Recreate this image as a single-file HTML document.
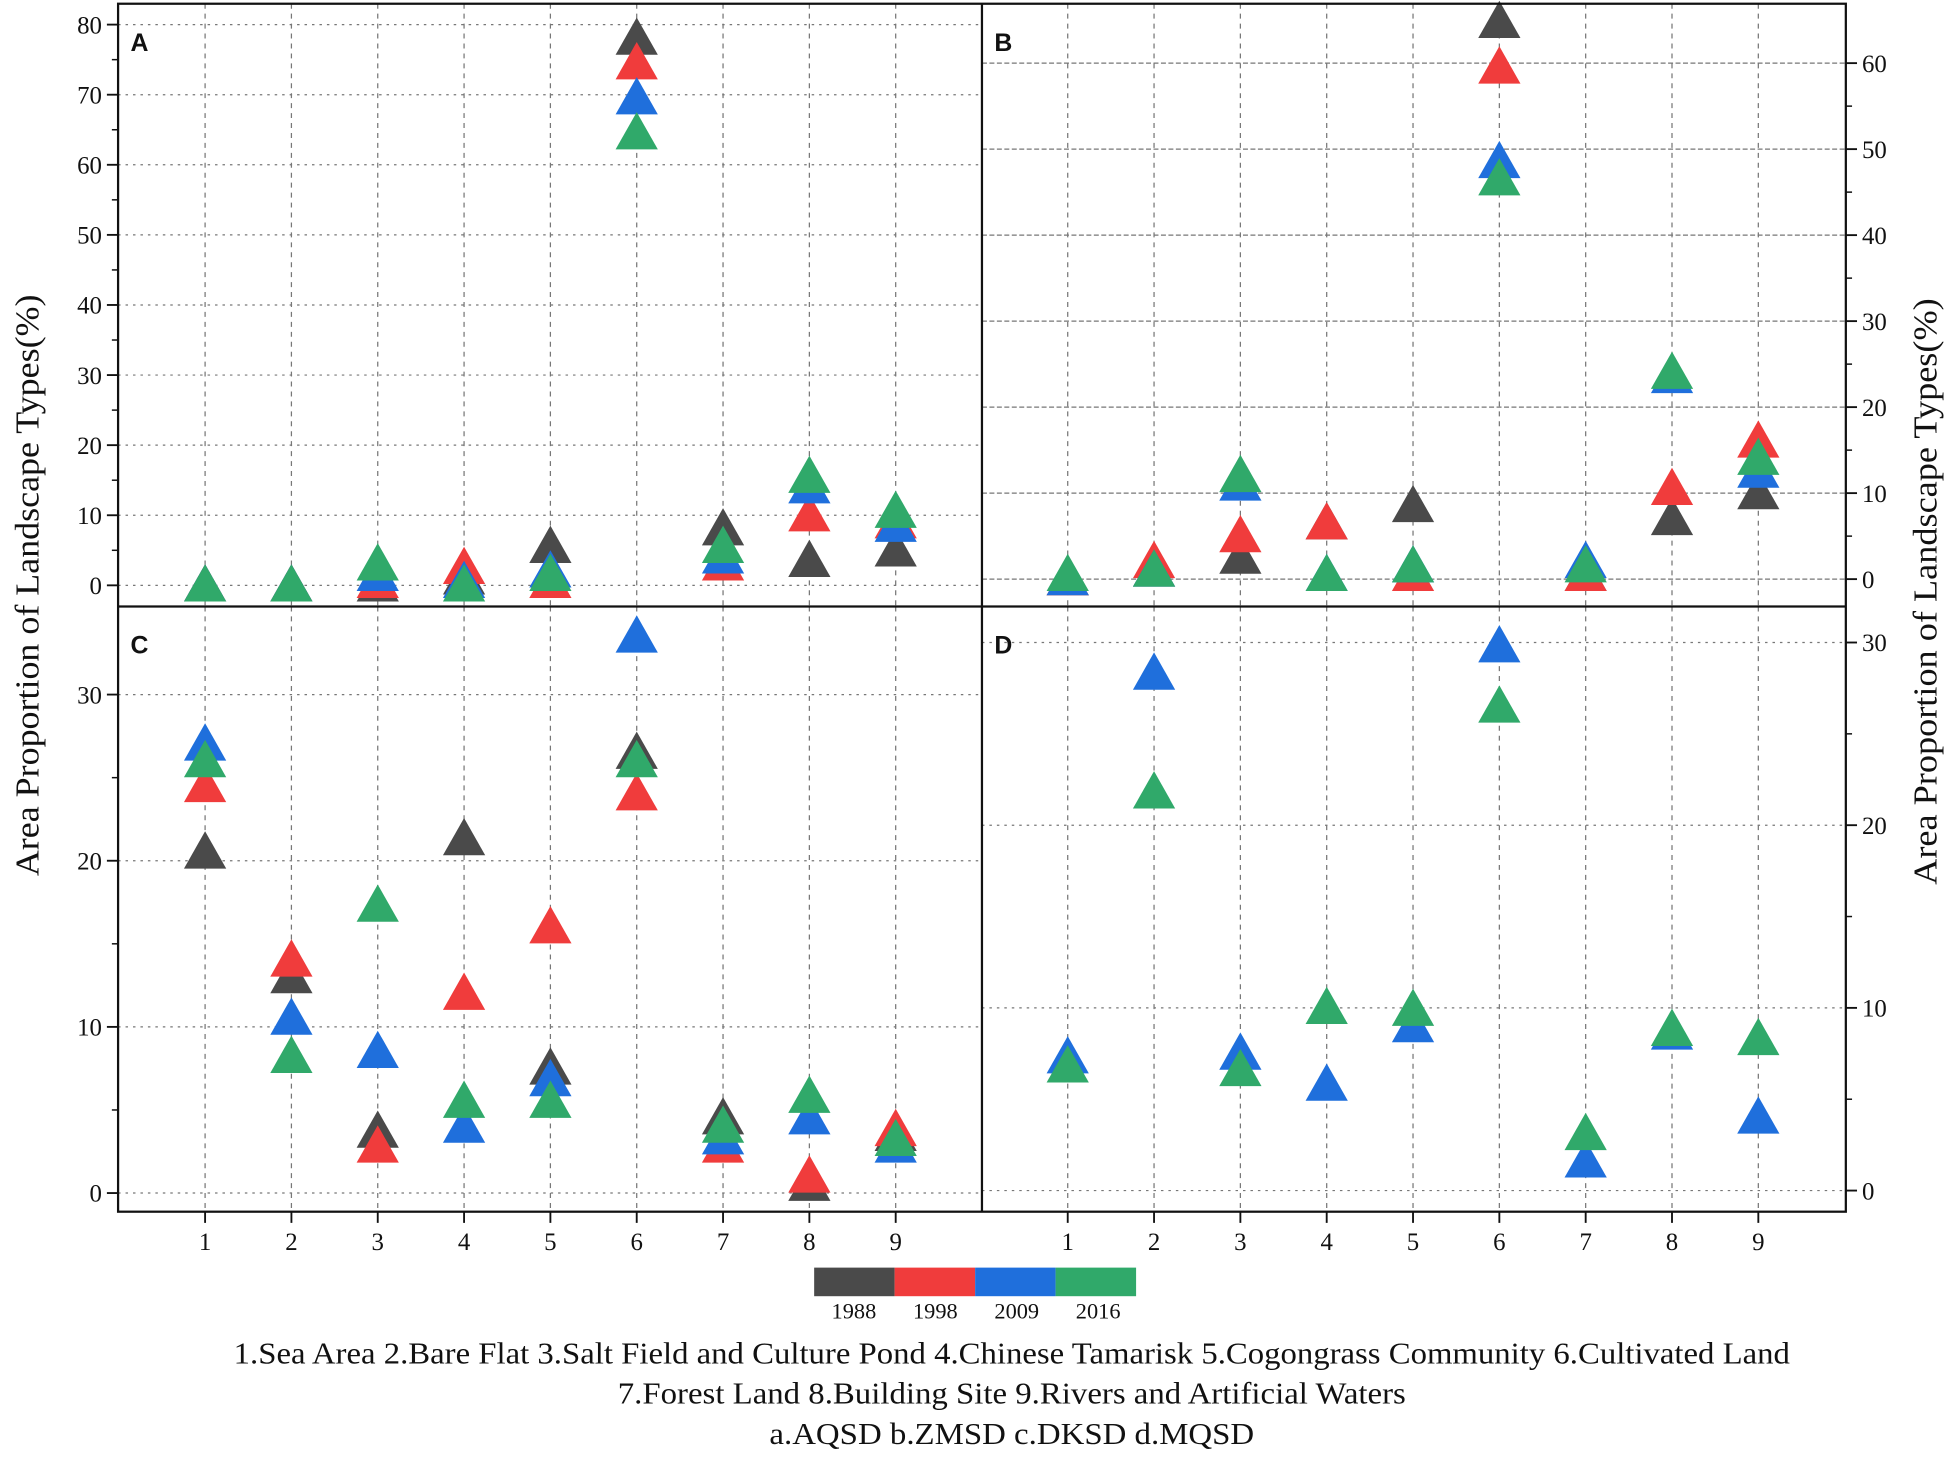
<!DOCTYPE html>
<html><head><meta charset="utf-8"><style>
html,body{margin:0;padding:0;background:#fff}
svg{display:block}
text{font-family:"Liberation Serif",serif;fill:#111}
</style></head><body>
<svg id="chart" width="1949" height="1459" viewBox="0 0 1568 1174" preserveAspectRatio="none" xmlns="http://www.w3.org/2000/svg"></svg>
<script>
const categories=[1,2,3,4,5,6,7,8,9];
const years=["1988","1998","2009","2016"];
const colors=["#4a4a4a","#f03c3c","#1f6fdc","#30a96a"];
// Panel A values per year
const a1988=[0,0,0,1,5.5,78,8,3.5,5];
const a1998=[0,0,0.5,2.5,0.5,74.5,3,10,9];
const a2009=[0,0,1.5,0.5,2,69.5,4,14,8.5];
const a2016=[0,0,3,0,1.5,64.5,5.5,15.5,10.5];
// Panel B
const b1988=[0,1,2.5,6.5,8.5,64.8,0.5,7,10];
const b1998=[0,2,5,6.5,0.5,59.5,0.5,10.5,16];
const b2009=[0,1,11,0.5,1.5,48.5,2,23.5,12.5];
const b2016=[0.5,1,12,0.5,1.5,46.5,1.5,24,14];
// Panel C
const c1988=[20.5,13,3.7,21.3,7.5,26.5,4.5,0.5,3.5];
const c1998=[24.5,14,2.8,12,16,24,2.8,1,3.8];
const c2009=[27,10.5,8.5,4,6.8,33.5,3.3,4.5,2.8];
const c2016=[26,8.2,17.3,5.5,5.5,26,4,5.8,3.2];
// Panel D
const d1988=[null,null,null,null,null,null,null,null,null];
const d1998=[null,null,null,null,null,null,null,null,null];
const d2009=[7.3,28.3,7.5,5.8,9.0,29.8,1.6,8.6,4.0];
const d2016=[6.8,21.8,6.6,10.0,9.9,26.5,3.1,8.8,8.3];
const aTicks=[0,10,20,30,40,50,60,70,80];
const bTicks=[0,10,20,30,40,50,60];
const cTicks=[0,10,20,30];
const dTicks=[0,10,20,30];

const svg=document.getElementById('chart');
const NS="http://www.w3.org/2000/svg";
function el(tag,attrs,parent){const e=document.createElementNS(NS,tag);for(const k in attrs)e.setAttribute(k,attrs[k]);(parent||svg).appendChild(e);return e;}

const panels=[
 {id:"a",label:"A",x0:95,x1:790,y0:3,y1:488,zero:471,per:5.64,ticks:aTicks,minor:5,side:"left",grid:"2,4",series:[a1988,a1998,a2009,a2016],catX:165},
 {id:"b",label:"B",x0:790,x1:1485,y0:3,y1:488,zero:466,per:6.92,ticks:bTicks,minor:5,side:"right",grid:"4,2",series:[b1988,b1998,b2009,b2016],catX:859},
 {id:"c",label:"C",x0:95,x1:790,y0:488,y1:975,zero:960,per:13.37,ticks:cTicks,minor:5,side:"left",grid:"2,4",series:[c1988,c1998,c2009,c2016],catX:165},
 {id:"d",label:"D",x0:790,x1:1485,y0:488,y1:975,zero:958,per:14.7,ticks:dTicks,minor:5,side:"right",grid:"2,4",series:[d1988,d1998,d2009,d2016],catX:859}
];
const step=69.45;
panels.forEach(p=>{
 const g=el('g',{});
 
 
 const yS=v=>p.zero-v*p.per;
 const xS=i=>p.catX+i*step;
 categories.forEach((c,i)=>{
  const l=el('line',{x1:xS(i),x2:xS(i),y1:p.y0,y2:p.y1,stroke:"#777","stroke-width":1,"stroke-dasharray":"4,4"},g);
  
  
 });
 const ax=p.side==="left"?p.x0:p.x1, dir=p.side==="left"?-1:1;
 p.ticks.forEach(t=>{
  const y=yS(t);
  const l=el('line',{x1:p.x0,x2:p.x1,y1:y,y2:y,stroke:"#777","stroke-width":1,"stroke-dasharray":p.grid},g);
  
  
  el('line',{x1:ax,x2:ax+dir*9,y1:y,y2:y,stroke:"#111","stroke-width":1.5},g);
  const tx=el('text',{x:ax+dir*13,y:y+7,"font-size":20,"text-anchor":p.side==="left"?"end":"start"},g);
  tx.textContent=t;
  
  
 });
 for(let t=p.ticks[0]+p.minor;t<p.ticks[p.ticks.length-1]+p.minor;t+=10){
  const y=yS(t); if(y<p.y0) continue;
  el('line',{x1:ax,x2:ax+dir*5,y1:y,y2:y,stroke:"#111","stroke-width":1.2},g);
 }
 const lab=el('text',{x:p.x0+10,y:p.y0+38,"font-size":20,"font-weight":"bold",style:"font-family:'Liberation Sans',sans-serif"},g);
 lab.textContent=p.label;
 
 
 p.series.forEach((s,k)=>{
  s.forEach((v,i)=>{
   if(v===null) return;
   const x=xS(i), y=yS(v);
   const tri=el('polygon',{points:`${x},${y-17} ${x-17},${y+13} ${x+17},${y+13}`,fill:colors[k]},g);
   
   
  });
 });
 if(p.y1===975){
  categories.forEach((c,i)=>{
   el('line',{x1:xS(i),x2:xS(i),y1:975,y2:984,stroke:"#111","stroke-width":1.5},g);
   const t=el('text',{x:xS(i),y:1006,"font-size":20,"text-anchor":"middle"},g);
   t.textContent=c;
   
   
  });
 }
});
el('rect',{x:95,y:3,width:1390,height:972,fill:"none",stroke:"#111","stroke-width":1.8});
el('line',{x1:95,x2:1485,y1:488,y2:488,stroke:"#111","stroke-width":1.8});
el('line',{x1:790,x2:790,y1:3,y2:975,stroke:"#111","stroke-width":1.8});
const yl=el('text',{transform:"translate(31,471) rotate(-90)","font-size":27,"text-anchor":"middle",textLength:468,lengthAdjust:"spacingAndGlyphs"});
yl.textContent="Area Proportion of Landscape Types(%)";


const yr=el('text',{transform:"translate(1558,476) rotate(-90)","font-size":27,"text-anchor":"middle",textLength:472,lengthAdjust:"spacingAndGlyphs"});
yr.textContent="Area Proportion of Landscape Types(%)";


const lg=el('g',{});


years.forEach((yv,k)=>{
 const r=el('rect',{x:655+k*64.75,y:1020,width:64.75,height:23,fill:colors[k]},lg);
 
 
 const t=el('text',{x:687+k*65.5,y:1061,"font-size":18,"text-anchor":"middle"},lg);
 t.textContent=yv;
 
 
});
const notes=["1.Sea Area 2.Bare Flat 3.Salt Field and Culture Pond 4.Chinese Tamarisk 5.Cogongrass Community 6.Cultivated Land","7.Forest Land 8.Building Site 9.Rivers and Artificial Waters","a.AQSD b.ZMSD c.DKSD d.MQSD"];
const noteLens=[1252,634,390];
notes.forEach((n,i)=>{
 const t=el('text',{x:814,y:1097+i*32.5,"font-size":25,"text-anchor":"middle",textLength:noteLens[i],lengthAdjust:"spacingAndGlyphs"});
 t.textContent=n;
 
 
});
</script>
</body></html>
